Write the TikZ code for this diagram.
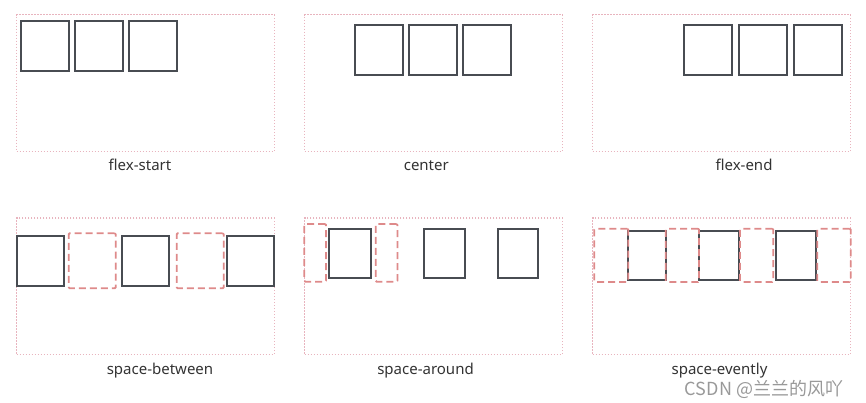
\documentclass[tikz,border=0pt]{standalone}
\usepackage{fontspec}
\setmainfont{Noto Sans}
\newfontfamily\cjkfont{Noto Sans CJK SC}
\usetikzlibrary{positioning}
\definecolor{boxgray}{RGB}{72,76,82}
\definecolor{gapred}{RGB}{222,138,138}
\definecolor{framepink}{RGB}{232,180,190}
\definecolor{labelgray}{RGB}{51,51,51}

\begin{document}
\begin{tikzpicture}[
    x=1pt,y=-1pt,
    frame/.style={rectangle,draw=framepink,line width=1.2pt,dash pattern=on 1.5pt off 1.5pt,minimum width=257.5pt,minimum height=137pt,inner sep=0pt,outer sep=0pt,anchor=north west},
    item/.style={rectangle,draw=boxgray,line width=2pt,minimum width=48pt,minimum height=50pt,inner sep=0pt,outer sep=0pt,anchor=north west},
    gap/.style={rectangle,draw=gapred,line width=1.8pt,dash pattern=on 7pt off 4pt,rounded corners=1pt,inner sep=0pt,outer sep=0pt,anchor=north west},
    caption/.style={font=\fontsize{15}{18}\selectfont,text=labelgray,inner sep=0pt,anchor=base}
]
    \useasboundingbox (0,0) rectangle (866,402);

    % flex-start
    \node[frame] (f1) at (16.7,14.7) {};
    \node[item] (a1) at (21.3,20.7) {};
    \node[item,right=6pt of a1] (a2) {};
    \node[item,right=6pt of a2] (a3) {};
    \node[caption] (l1) at (140,170) {flex-start};

    % center
    \node[frame] (f2) at (304.7,14.7) {};
    \node[item] (b1) at (355.3,25.3) {};
    \node[item,right=6pt of b1] (b2) {};
    \node[item,right=6pt of b2] (b3) {};
    \node[caption] (l2) at (426.3,170) {center};

    % flex-end
    \node[frame] (f3) at (592.7,14.7) {};
    \node[item] (c1) at (684.3,25.3) {};
    \node[item,right=7pt of c1] (c2) {};
    \node[item,right=7pt of c2] (c3) {};
    \node[caption] (l3) at (744,170) {flex-end};

    % space-between
    \node[frame,minimum height=136.7pt] (f4) at (16.7,218) {};
    \node[item,minimum width=47.5pt,minimum height=50.3pt] (d1) at (16.7,235.7) {};
    \node[item,minimum width=47.5pt,minimum height=50.3pt] (d2) at (121.7,235.7) {};
    \node[item,minimum width=47.5pt,minimum height=50.3pt] (d3) at (226.7,235.7) {};
    \node[gap,minimum width=47pt,minimum height=55pt] (g1) at (68.7,233.3) {};
    \node[gap,minimum width=47pt,minimum height=55pt] (g2) at (176.7,233.3) {};
    \node[caption] (l4) at (160,374) {space-between};

    % space-around
    \node[frame,minimum height=136.7pt] (f5) at (304.7,218) {};
    \node[item,minimum width=42pt,minimum height=49.6pt] (e1) at (329,228.7) {};
    \node[item,minimum width=41.6pt,minimum height=49.6pt] (e2) at (423.7,228.7) {};
    \node[item,minimum width=40.3pt,minimum height=49.6pt] (e3) at (497.7,228.7) {};
    \node[gap,minimum width=21.7pt,minimum height=57.7pt] (h1) at (304.3,224) {};
    \node[gap,minimum width=21.7pt,minimum height=57.7pt] (h2) at (375.7,224) {};
    \node[caption] (l5) at (425.5,374) {space-around};

    % space-evently
    \node[frame,minimum height=136.7pt] (f6) at (592.7,218) {};
    \node[item,minimum width=37.4pt,minimum height=49.3pt] (k1) at (628.3,230.7) {};
    \node[item,minimum width=39.7pt,minimum height=49.3pt] (k2) at (699.3,230.7) {};
    \node[item,minimum width=40pt,minimum height=49.3pt] (k3) at (776,230.7) {};
    \node[gap,minimum width=34pt,minimum height=53.3pt] (m1) at (594.3,228.7) {};
    \node[gap,minimum width=33.3pt,minimum height=53.3pt] (m2) at (665.7,228.7) {};
    \node[gap,minimum width=33.3pt,minimum height=53.3pt] (m3) at (740,228.7) {};
    \node[gap,minimum width=33.4pt,minimum height=53.3pt] (m4) at (817.3,228.7) {};
    \node[caption] (l6) at (719.5,374) {space-evently};

    \node[font=\cjkfont\fontsize{18}{20}\selectfont,text=black!40,inner sep=0pt] (mark) at (764,389) {CSDN @兰兰的风吖};
\end{tikzpicture}
\end{document}
